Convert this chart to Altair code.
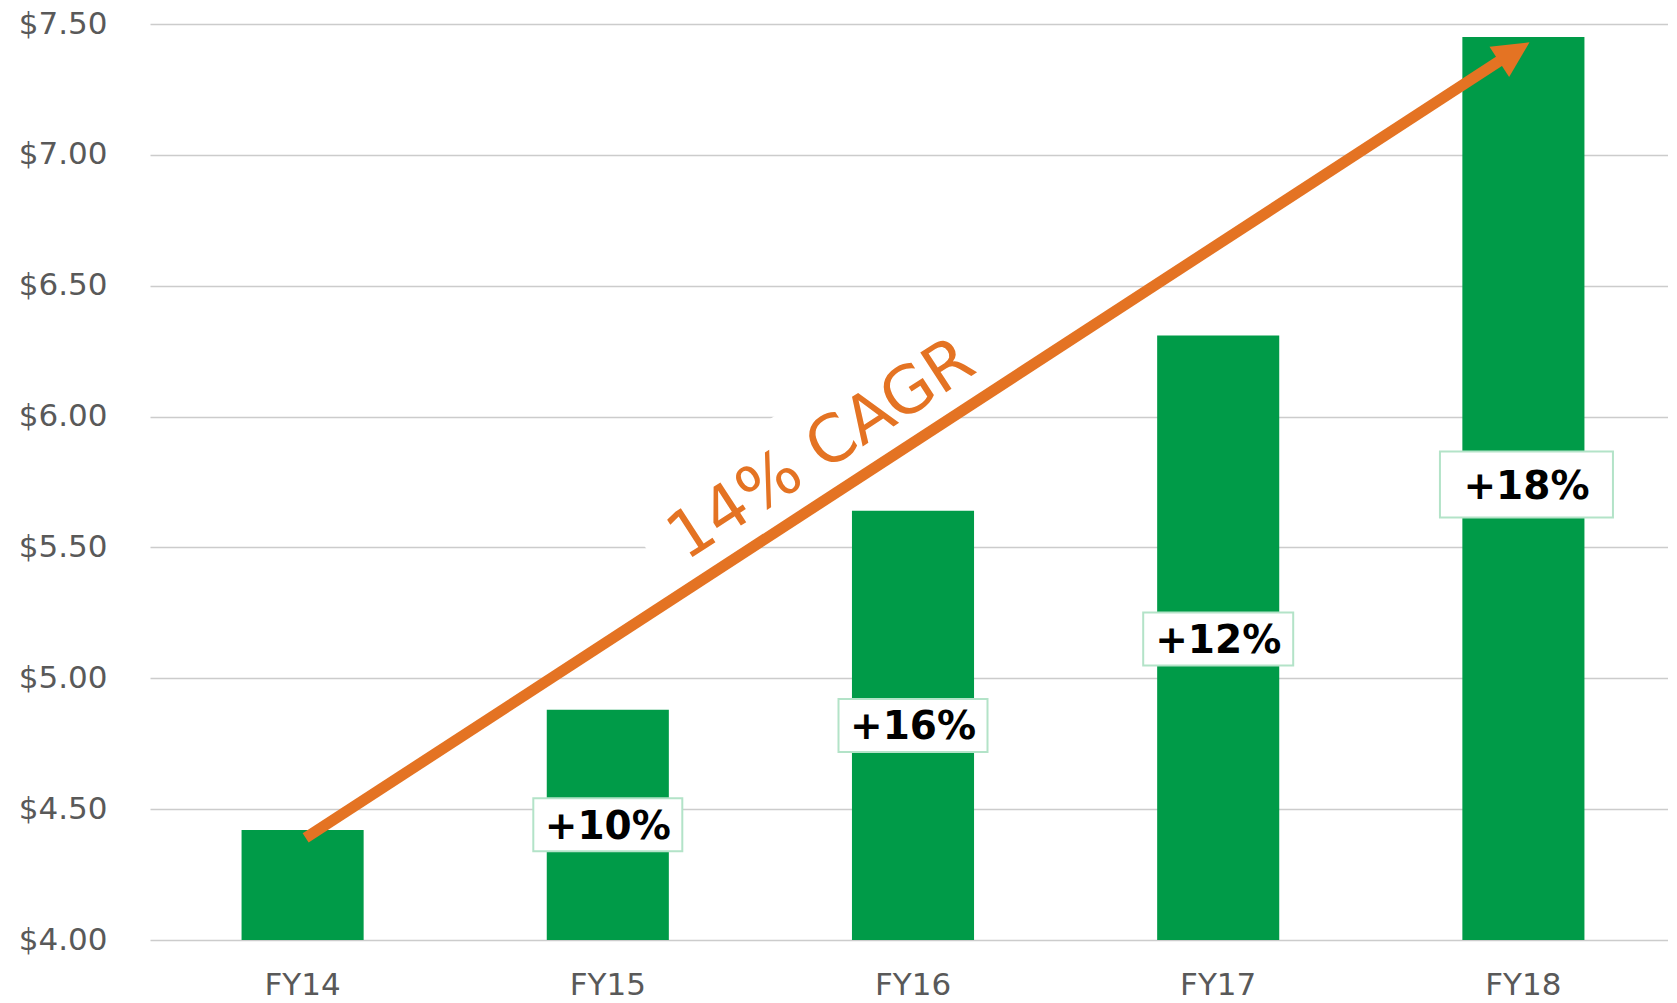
import math
import altair as alt
import pandas as pd

# ---- data ----
years = ["FY14", "FY15", "FY16", "FY17", "FY18"]
eps = [4.42, 4.88, 5.64, 6.31, 7.45]
y_ticks = [4.0, 4.5, 5.0, 5.5, 6.0, 6.5, 7.0, 7.5]

growth_text = ["+10%", "+16%", "+12%", "+18%"]
growth_x = [1.0, 2.0, 3.0, 4.01]      # category index
growth_y = [4.44, 4.82, 5.15, 5.74]
box_w_px = [149, 149, 150, 173]
box_h_px = [53, 53, 53, 66]

cagr_text = "14% CAGR"
arrow_start = [0.01, 4.39]
arrow_end = [3.95, 7.38]
arrow_tip = [4.02, 7.43]
cagr_pos = [1.735, 5.81]
band_start = [1.14, 5.47]
band_end = [2.26, 6.32]

# ---- layout / style ----
W, H = 1518, 916          # drawn plot area (gridline length)
XR = 1526                 # extent over which the 5 categories are laid out
Y_MIN, Y_MAX = 4.0, 7.5
STEP = XR / len(years)
UNIT = H / (Y_MAX - Y_MIN)
GREEN = "#009B48"
ORANGE = "#E47323"
GRAY = "#595959"
FONT = "DejaVu Sans"

ang = math.degrees(math.atan2((arrow_tip[1] - arrow_start[1]) * UNIT,
                              (arrow_tip[0] - arrow_start[0]) * STEP))

y_scale = alt.Scale(domain=[Y_MIN, Y_MAX], nice=False, zero=False)
y_axis = alt.Axis(values=y_ticks, format="$.2f", title=None, labelFontSize=31,
                  labelColor=GRAY, labelFont=FONT, ticks=False, domain=False,
                  gridColor="#CCCCCC", gridWidth=1.5, labelPadding=43)
xq_scale = alt.Scale(domain=[-0.5, len(years) - 0.5], nice=False, zero=False,
                     range=[0, XR])


def xq(field):
    return alt.X(field, type="quantitative", scale=xq_scale, axis=None)


def yq(field):
    return alt.Y(field, type="quantitative", scale=y_scale, axis=y_axis)


bars_df = pd.DataFrame({"year": years, "y": eps})
bars = alt.Chart(bars_df).mark_bar(color=GREEN).encode(
    x=alt.X("year:N", sort=years,
            scale=alt.Scale(paddingInner=0.6, paddingOuter=0.3, range=[0, XR]),
            axis=alt.Axis(title=None, labelAngle=0, labelFontSize=31,
                          labelColor=GRAY, labelFont=FONT, ticks=False,
                          domain=False, grid=False, labelPadding=54,
                          labelBaseline="alphabetic")),
    y=yq("y"),
    y2=alt.Y2("base:Q"),
).transform_calculate(base=str(Y_MIN))

band_df = pd.DataFrame({"x": [band_start[0]], "y": [band_start[1]],
                        "x2": [band_end[0]], "y2": [band_end[1]]})
band = alt.Chart(band_df).mark_rule(color="white", strokeWidth=98, strokeCap="butt").encode(
    x=xq("x"), x2="x2", y=yq("y"), y2="y2")

arrow_df = pd.DataFrame({"x": [arrow_start[0]], "y": [arrow_start[1]],
                         "x2": [arrow_end[0]], "y2": [arrow_end[1]]})
arrow = alt.Chart(arrow_df).mark_rule(color=ORANGE, strokeWidth=11, strokeCap="butt").encode(
    x=xq("x"), x2="x2", y=yq("y"), y2="y2")

head_df = pd.DataFrame({"x": [arrow_tip[0]], "y": [arrow_tip[1]]})
head = alt.Chart(head_df).mark_point(
    shape="M0,0 L0.5,1 L-0.5,1 Z", filled=True, size=72 * 72, angle=90 - ang,
    color=ORANGE, opacity=1, strokeWidth=0).encode(x=xq("x"), y=yq("y"))

cagr_df = pd.DataFrame({"x": [cagr_pos[0]], "y": [cagr_pos[1]], "t": [cagr_text]})
cagr = alt.Chart(cagr_df).mark_text(
    angle=360 - ang, fontSize=65, font=FONT, color=ORANGE, align="center",
    baseline="alphabetic").encode(x=xq("x"), y=yq("y"), text="t:N")

lab_df = pd.DataFrame({"x": growth_x, "y": growth_y, "t": growth_text,
                       "w": box_w_px, "h": box_h_px})
lab_df["x_lo"] = lab_df["x"] - lab_df["w"] / 2 / STEP
lab_df["x_hi"] = lab_df["x"] + lab_df["w"] / 2 / STEP
lab_df["y_lo"] = lab_df["y"] - lab_df["h"] / 2 / UNIT
lab_df["y_hi"] = lab_df["y"] + lab_df["h"] / 2 / UNIT

boxes = alt.Chart(lab_df).mark_rect(fill="white", stroke="#B3E3C8", strokeWidth=2).encode(
    x=xq("x_lo"), x2="x_hi", y=yq("y_lo"), y2="y_hi")
labels = alt.Chart(lab_df).mark_text(
    fontSize=39, font=FONT, fontWeight="bold", color="black", align="center",
    baseline="middle", dy=2).encode(x=xq("x"), y=yq("y"), text="t:N")

chart = alt.layer(band, bars, arrow, head, cagr, boxes, labels).resolve_scale(
    x="independent").resolve_axis(x="independent").properties(
    width=W, height=H,
    autosize=alt.AutoSizeParams(type="none"),
    padding={"left": 142, "top": 16, "right": 0, "bottom": 64},
    background="white",
).configure_view(stroke=None)

chart.save("out.html", embed_options={"renderer": "svg", "actions": False})
